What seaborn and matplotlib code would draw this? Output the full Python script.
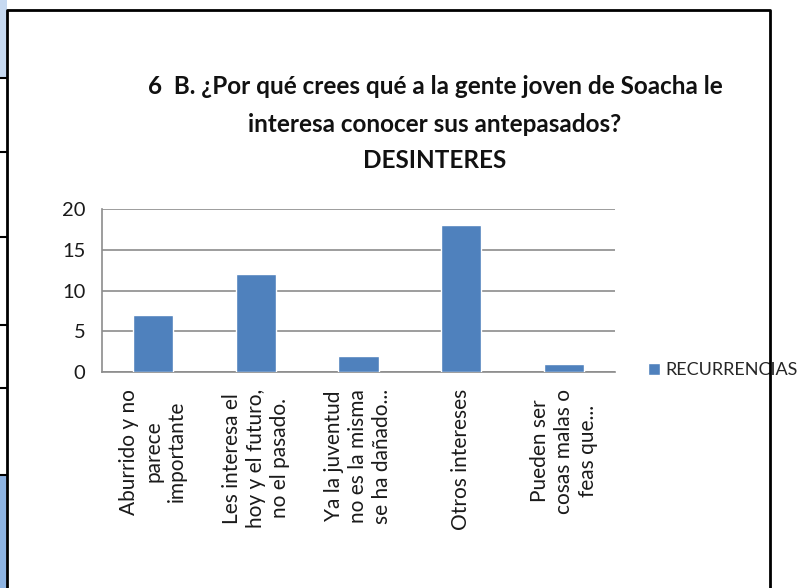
import matplotlib
matplotlib.use("Agg")
import matplotlib.pyplot as plt
import seaborn as sns
import pandas as pd
from matplotlib.patches import Rectangle

categorias = [
    "Aburrido y no\nparece\nimportante",
    "Les interesa el\nhoy y el futuro,\nno el pasado.",
    "Ya la juventud\nno es la misma\nse ha dañado...",
    "Otros intereses",
    "Pueden ser\ncosas malas o\nfeas que...",
]
recurrencias = [7, 12, 2, 18, 1]
y_ticks = [0, 5, 10, 15, 20]
titulo = ["6  B. ¿Por qué crees qué a la gente joven de Soacha le",
          "interesa conocer sus antepasados?",
          "DESINTERES"]

df = pd.DataFrame({"cat": categorias, "val": recurrencias})

sns.set_style("white")
plt.rcParams["font.family"] = ["Lato", "DejaVu Sans"]

W, H = 803, 588
fig = plt.figure(figsize=(W / 100, H / 100), dpi=100)
ax = fig.add_axes([102 / W, 1 - 372 / H, (615 - 102) / W, (372 - 209) / H])

sns.barplot(data=df, x="cat", y="val", color="#4F81BD", width=0.39,
            saturation=1, label="RECURRENCIAS", ax=ax, zorder=3)

ax.set_xlim(-0.5, 4.5)
ax.set_ylim(0, 20)
ax.set_yticks(y_ticks)
ax.set_xlabel("")
ax.set_ylabel("")
ax.yaxis.grid(True, color="#8c8c8c", linewidth=1.2, zorder=0)
for s in ["top", "right"]:
    ax.spines[s].set_visible(False)
for s in ["left", "bottom"]:
    ax.spines[s].set_color("#8c8c8c")
    ax.spines[s].set_linewidth(1.2)

ax.tick_params(axis="y", length=6, color="#8c8c8c", width=1.2,
               labelsize=14.5, labelcolor="#1a1a1a", pad=6)
ax.set_xticks(range(len(categorias)))
ax.set_xticklabels(categorias, rotation=90, ha="center", va="top",
                   multialignment="center", fontsize=15, color="#1a1a1a",
                   linespacing=1.25)
ax.tick_params(axis="x", length=0, pad=12)
ax.set_xticks([i - 0.5 for i in range(len(categorias) + 1)], minor=True)
ax.tick_params(axis="x", which="minor", length=6, color="#8c8c8c", width=1.2)

ax.legend(loc="center left", bbox_to_anchor=(648 / W, 1 - 370 / H),
          bbox_transform=fig.transFigure, frameon=False, fontsize=13,
          handlelength=0.65, handleheight=0.65, handletextpad=0.3,
          borderaxespad=0, borderpad=0)

for i, line in enumerate(titulo):
    fig.text(435 / W, 1 - (87 + 37 * i) / H, line, ha="center", va="center",
             fontsize=17.5, fontweight="bold", color="#111111")

# marco del grafico y restos de la tabla a la izquierda
fig.add_artist(Rectangle((0, 1 - 78 / H), 7 / W, 78 / H, transform=fig.transFigure,
                         facecolor="#c6d9f1", edgecolor="none"))
fig.add_artist(Rectangle((0, 0), 7 / W, 1 - 475 / H, transform=fig.transFigure,
                         facecolor="#8db3e2", edgecolor="none"))
for yy in [78, 152, 237, 325, 388, 475]:
    fig.add_artist(plt.Line2D([0, 7 / W], [1 - yy / H, 1 - yy / H],
                              transform=fig.transFigure, color="black", lw=1.5))
fig.add_artist(plt.Line2D([7 / W, 7 / W, 770 / W, 770 / W],
                          [0, 1 - 10 / H, 1 - 10 / H, 0],
                          transform=fig.transFigure, color="black", lw=2, zorder=10))

fig.savefig("out.png", dpi=100)
